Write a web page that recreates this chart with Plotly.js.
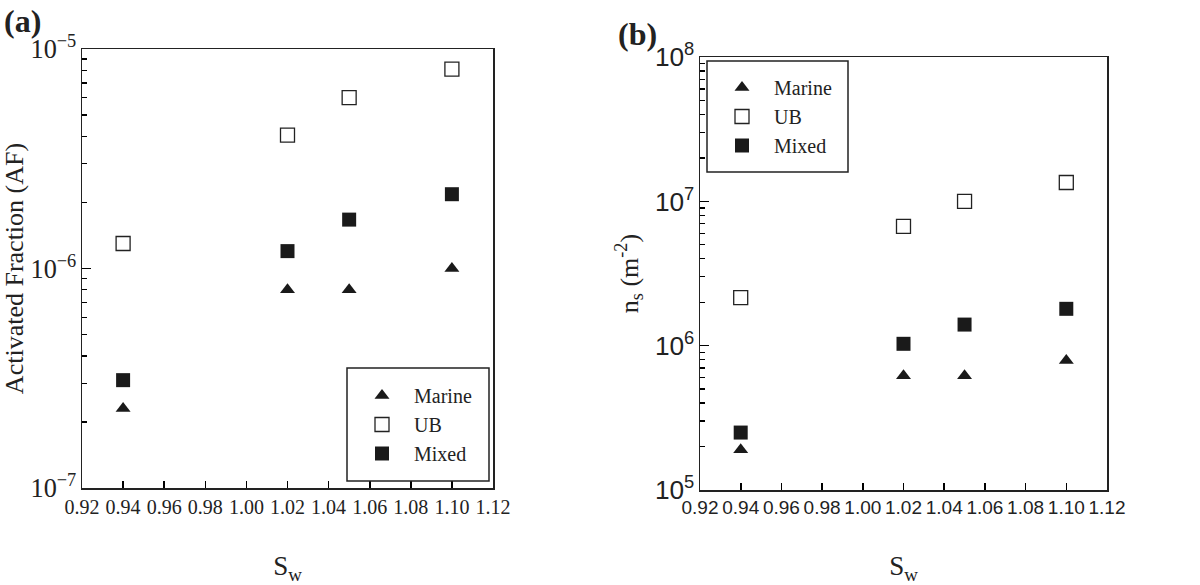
<!DOCTYPE html>
<html>
<head>
<meta charset="utf-8">
<script src="https://cdn.plot.ly/plotly-3.0.1.min.js"></script>
<style>
  html, body { margin: 0; padding: 0; background: #fff; }
  #chart { width: 1200px; height: 585px; }
</style>
</head>
<body>
<div id="chart"></div>
<script>
// S_w values shared by both panels
const sw = [0.94, 1.02, 1.05, 1.10];

// (a) activated fraction
const afMarine = [2.3e-7, 8.0e-7, 8.0e-7, 1.0e-6];
const afUB = [1.3e-6, 4.05e-6, 6.0e-6, 8.1e-6];
const afMixed = [3.1e-7, 1.2e-6, 1.67e-6, 2.18e-6];

// (b) ns (m^-2)
const nsMarine = [1.9e5, 6.2e5, 6.2e5, 7.9e5];
const nsUB = [2.15e6, 6.7e6, 1.0e7, 1.35e7];
const nsMixed = [2.5e5, 1.03e6, 1.4e6, 1.8e6];

const xTicks = [0.92, 0.94, 0.96, 0.98, 1.00, 1.02, 1.04, 1.06, 1.08, 1.10, 1.12];

const INK = "#222";
const TICK = "#000";
const SERIF = "Liberation Serif, Times New Roman, serif";
const SANS = "Liberation Sans, Arial, sans-serif";

function series(x, y, name, symbol, xa, ya, legend) {
  const open = symbol.endsWith("-open");
  return {
    x: x, y: y, name: name, type: "scatter", mode: "markers",
    xaxis: xa, yaxis: ya, legend: legend,
    marker: {
      symbol: symbol,
      size: symbol.startsWith("triangle") ? 13 : 14,
      color: open ? INK : "#1a1a1a",
      line: { color: INK, width: open ? 1.3 : 0 }
    }
  };
}

const traces = [
  series(sw, afMarine, "Marine", "triangle-up", "x", "y", "legend"),
  series(sw, afUB, "UB", "square-open", "x", "y", "legend"),
  series(sw, afMixed, "Mixed", "square", "x", "y", "legend"),
  series(sw, nsMarine, "Marine", "triangle-up", "x2", "y2", "legend2"),
  series(sw, nsUB, "UB", "square-open", "x2", "y2", "legend2"),
  series(sw, nsMixed, "Mixed", "square", "x2", "y2", "legend2")
];

function xAxis(domain, font, size, anchor) {
  return {
    domain: domain, anchor: anchor, range: [0.92, 1.12],
    tickvals: xTicks, tickformat: ".2f", tickangle: 0,
    ticks: "inside", ticklen: 7, tickwidth: 1.6, tickcolor: TICK,
    showline: true, mirror: true, linecolor: INK, linewidth: 1.5,
    showgrid: false, zeroline: false,
    tickfont: { family: font, size: size, color: INK },
    title: { text: "S<sub>w</sub>", font: { family: SERIF, size: 27, color: INK } }
  };
}

function yAxis(domain, range, font, anchor, title) {
  return {
    domain: domain, anchor: anchor, type: "log", range: range,
    dtick: 1, exponentformat: "power",
    ticks: "inside", ticklen: 9, tickwidth: 1.6, tickcolor: TICK,
    minor: { ticks: "inside", ticklen: 5, tickwidth: 1.4, tickcolor: TICK, showgrid: false },
    showline: true, mirror: true, linecolor: INK, linewidth: 1.5,
    showgrid: false, zeroline: false,
    tickfont: { family: font, size: 21, color: INK },
    title: { text: title, font: { family: SERIF, size: 26, color: INK } }
  };
}

function legendBox(x, y) {
  return {
    x: x, y: y, xanchor: "left", yanchor: "top",
    bgcolor: "rgba(0,0,0,0)", borderwidth: 0,
    itemwidth: 54,
    font: { family: SERIF, size: 20, color: INK },
    traceorder: "normal"
  };
}

function frame(x0, y0, x1, y1) {
  return {
    type: "rect", xref: "paper", yref: "paper",
    x0: x0 / 1200, x1: x1 / 1200, y0: 1 - y1 / 585, y1: 1 - y0 / 585,
    line: { color: INK, width: 1.5 }, fillcolor: "rgba(0,0,0,0)", layer: "above"
  };
}

const layout = {
  width: 1200, height: 585,
  margin: { l: 0, r: 0, t: 0, b: 0 },
  paper_bgcolor: "#fff", plot_bgcolor: "#fff",
  showlegend: true,
  xaxis: xAxis([82 / 1200, 493 / 1200], SERIF, 20, "y"),
  yaxis: yAxis([1 - 488 / 585, 1 - 49 / 585], [-7, -5], SERIF, "x", "Activated Fraction (AF)"),
  xaxis2: xAxis([700 / 1200, 1107 / 1200], SANS, 19, "y2"),
  yaxis2: yAxis([1 - 490 / 585, 1 - 57 / 585], [5, 8], SANS, "x2", "n<sub>s</sub> (m<sup>-2</sup>)"),
  legend: legendBox(350 / 1200, 1 - 376 / 585),
  legend2: legendBox(710 / 1200, 1 - 68 / 585),
  shapes: [frame(347, 368, 489, 481), frame(707, 61, 848, 172)],
  annotations: [
    { text: "<b>(a)</b>", x: 2 / 1200, y: 1 - 21 / 585, xref: "paper", yref: "paper",
      xanchor: "left", yanchor: "middle", showarrow: false,
      font: { family: SERIF, size: 32, color: INK } },
    { text: "<b>(b)</b>", x: 616 / 1200, y: 1 - 34 / 585, xref: "paper", yref: "paper",
      xanchor: "left", yanchor: "middle", showarrow: false,
      font: { family: SERIF, size: 32, color: INK } }
  ]
};

Plotly.newPlot("chart", traces, layout, { displayModeBar: false, staticPlot: true });
</script>
</body>
</html>
